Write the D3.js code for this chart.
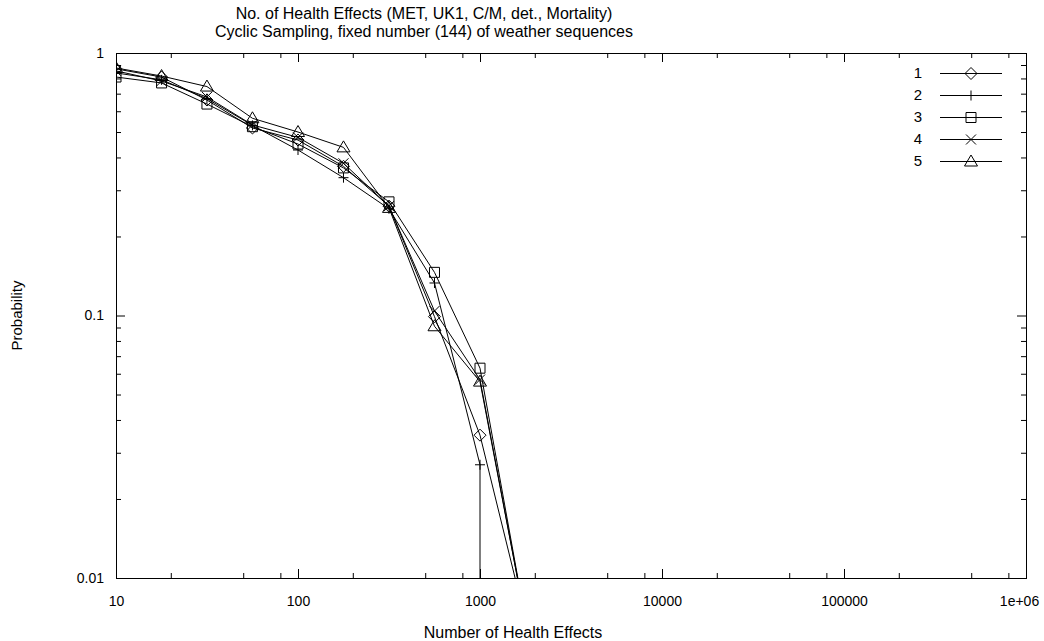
<!DOCTYPE html>
<html>
<head>
<meta charset="utf-8">
<script src="https://cdn.jsdelivr.net/npm/d3@7"></script>
<style>
  body { margin: 0; background: #fff; }
  svg { font-family: "Liberation Sans", Arial, sans-serif; }
</style>
</head>
<body>
<script>
// values
var xValues = [10, 17.8, 31.6, 56.2, 100, 177.8, 316.2, 562.3, 1000, 1778];
var series1 = [0.87, 0.81, 0.662, 0.518, 0.466, 0.37, 0.261, 0.099, 0.035, 0.0069];
var series2 = [0.84, 0.79, 0.67, 0.53, 0.427, 0.335, 0.255, 0.133, 0.027, 0.001];
var series2X = [10, 17.8, 31.6, 56.2, 100, 177.8, 316.2, 562.3, 1000, 1000];
var series3 = [0.81, 0.769, 0.639, 0.524, 0.45, 0.365, 0.271, 0.146, 0.063, 0.0069];
var series4 = [0.855, 0.782, 0.68, 0.532, 0.477, 0.38, 0.261, 0.104, 0.057, 0.0069];
var series5 = [0.877, 0.817, 0.745, 0.564, 0.50, 0.437, 0.257, 0.091, 0.056, 0.0069];
var seriesNames = ["1", "2", "3", "4", "5"];
var xMajor = [10, 100, 1000, 10000, 100000, 1000000];
var xMinorMult = [2, 5, 8];
var yMajor = [0.01, 0.1, 1];
var yMinorMult = [2, 3, 4, 5, 6, 7, 8, 9];

var width = 1044, height = 641;
var pLeft = 116, pRight = 1026, pTop = 53, pBottom = 578;

var svg = d3.select('body').append('svg')
    .attr('width', width)
    .attr('height', height);

var x = d3.scaleLog().domain([10, 1e6]).range([pLeft, pRight]);
var y = d3.scaleLog().domain([0.01, 1]).range([pBottom, pTop]);

var xMinor = [];
xMajor.slice(0, -1).forEach(function(d) { xMinorMult.forEach(function(m) { xMinor.push(d * m); }); });
var yMinor = [];
yMajor.slice(0, -1).forEach(function(d) { yMinorMult.forEach(function(m) { yMinor.push(d * m); }); });

var fmtX = function(d) { return d >= 1e6 ? '1e+06' : String(d); };
var fmtY = function(d) { return String(+d.toPrecision(3)); };

function styleAxis(g) {
  g.select('.domain').remove();
  g.selectAll('line').attr('stroke', '#000');
  g.selectAll('text').attr('font-size', 14).attr('fill', '#000');
}

// bottom axis
var bx = svg.append('g').attr('transform', 'translate(0,' + pBottom + ')')
  .call(d3.axisBottom(x).tickValues(xMajor).tickFormat(fmtX).tickSize(-9).tickPadding(18))
  .call(styleAxis);
// keep the last label inside the canvas, as in the reference
bx.selectAll('text').filter(function(d) { return d === 1e6; }).attr('dx', -7);
svg.append('g').attr('transform', 'translate(0,' + pBottom + ')')
  .call(d3.axisBottom(x).tickValues(xMinor).tickFormat('').tickSize(-5))
  .call(styleAxis);
// top axis (mirror)
svg.append('g').attr('transform', 'translate(0,' + pTop + ')')
  .call(d3.axisTop(x).tickValues(xMajor).tickFormat('').tickSize(-9))
  .call(styleAxis);
svg.append('g').attr('transform', 'translate(0,' + pTop + ')')
  .call(d3.axisTop(x).tickValues(xMinor).tickFormat('').tickSize(-5))
  .call(styleAxis);
// left axis
svg.append('g').attr('transform', 'translate(' + pLeft + ',0)')
  .call(d3.axisLeft(y).tickValues(yMajor).tickFormat(fmtY).tickSize(-9).tickPadding(12))
  .call(styleAxis);
svg.append('g').attr('transform', 'translate(' + pLeft + ',0)')
  .call(d3.axisLeft(y).tickValues(yMinor).tickFormat('').tickSize(-5))
  .call(styleAxis);
// right axis (mirror)
svg.append('g').attr('transform', 'translate(' + pRight + ',0)')
  .call(d3.axisRight(y).tickValues(yMajor).tickFormat('').tickSize(-9))
  .call(styleAxis);
svg.append('g').attr('transform', 'translate(' + pRight + ',0)')
  .call(d3.axisRight(y).tickValues(yMinor).tickFormat('').tickSize(-5))
  .call(styleAxis);

// frame
svg.append('rect')
  .attr('x', pLeft + 0.5).attr('y', pTop + 0.5)
  .attr('width', pRight - pLeft).attr('height', pBottom - pTop)
  .attr('fill', 'none').attr('stroke', '#000').attr('stroke-width', 1);

svg.append('clipPath').attr('id', 'plot')
  .append('rect')
  .attr('x', pLeft).attr('y', pTop)
  .attr('width', pRight - pLeft).attr('height', pBottom - pTop);

// marker shapes (gnuplot point types 1-5)
function marker(type) {
  switch (type) {
    case 0: return 'M0,-6L6,0L0,6L-6,0Z';
    case 1: return 'M-5,0H5M0,-5V5';
    case 2: return 'M-5,-5H5V5H-5Z';
    case 3: return 'M-5,-5L5,5M-5,5L5,-5';
    default: return 'M0,-6.5L6.5,4.5H-6.5Z';
  }
}

var allSeries = [
  { xs: xValues, ys: series1 },
  { xs: series2X, ys: series2 },
  { xs: xValues, ys: series3 },
  { xs: xValues, ys: series4 },
  { xs: xValues, ys: series5 }
];

var line = d3.line()
  .x(function(d) { return x(d[0]); })
  .y(function(d) { return y(d[1]); });

var plot = svg.append('g').attr('clip-path', 'url(#plot)');

allSeries.forEach(function(s, i) {
  var pts = s.xs.map(function(v, k) { return [v, s.ys[k]]; });
  plot.append('path')
    .attr('d', line(pts))
    .attr('fill', 'none')
    .attr('stroke', '#000')
    .attr('stroke-width', 1);
  plot.selectAll('.m' + i)
    .data(pts)
    .enter()
    .append('path')
    .attr('class', 'm' + i)
    .attr('transform', function(d) { return 'translate(' + x(d[0]) + ',' + y(d[1]) + ')'; })
    .attr('d', marker(i))
    .attr('fill', 'none')
    .attr('stroke', '#000')
    .attr('stroke-width', 1);
});

// legend
var legend = svg.append('g');
seriesNames.forEach(function(name, i) {
  var ly = 73 + i * 22;
  legend.append('text')
    .attr('x', 922).attr('y', ly)
    .attr('dy', '0.35em')
    .attr('text-anchor', 'end')
    .attr('font-size', 15)
    .text(name);
  legend.append('line')
    .attr('x1', 940).attr('x2', 1002)
    .attr('y1', ly + 0.5).attr('y2', ly + 0.5)
    .attr('stroke', '#000');
  legend.append('path')
    .attr('transform', 'translate(971,' + (ly + 0.5) + ')')
    .attr('d', marker(i))
    .attr('fill', 'none')
    .attr('stroke', '#000');
});

// titles
svg.append('text')
  .attr('x', 424).attr('y', 19)
  .attr('text-anchor', 'middle')
  .attr('font-size', 16)
  .text('No. of Health Effects (MET, UK1, C/M, det., Mortality)');
svg.append('text')
  .attr('x', 424).attr('y', 37)
  .attr('text-anchor', 'middle')
  .attr('font-size', 16)
  .text('Cyclic Sampling, fixed number (144) of weather sequences');

svg.append('text')
  .attr('x', 513).attr('y', 638)
  .attr('text-anchor', 'middle')
  .attr('font-size', 16)
  .text('Number of Health Effects');

svg.append('text')
  .attr('transform', 'translate(22,' + ((pTop + pBottom) / 2) + ') rotate(-90)')
  .attr('text-anchor', 'middle')
  .attr('font-size', 15)
  .text('Probability');
</script>
</body>
</html>
